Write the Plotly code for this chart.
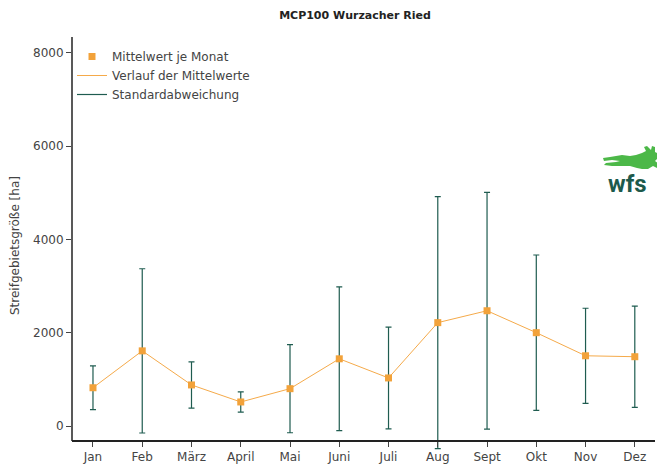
import plotly.graph_objects as go

months = ["Jan", "Feb", "März", "April", "Mai", "Juni", "Juli", "Aug", "Sept", "Okt", "Nov", "Dez"]
mean_values = [820, 1610, 880, 515, 800, 1440, 1030, 2215, 2470, 2000, 1505, 1485]
std_values = [468, 1760, 495, 218, 945, 1540, 1090, 2700, 2536, 1665, 1018, 1085]
y_ticks = [0, 2000, 4000, 6000, 8000]

ORANGE = "#f2a23a"
LINE_ORANGE = "#f5aa4a"
TEAL = "#1f5c50"
AXIS = "#222"
FONT = "DejaVu Sans"

x_idx = list(range(len(months)))

# page body has an 8px default margin; compensate so the figure lands where the reference is
OFF = 8
W, H = 665 - OFF, 466 - OFF
AXIS_BOTTOM = 441          # where the x-axis line sits (screen px)
PLOT_BOTTOM = 454          # subplot extends a bit lower so long error bars are not clipped
L, R, T = 72 - OFF, 10, 37 - OFF
B = H - (PLOT_BOTTOM - OFF)
PW, PH = W - L - R, H - T - B


def px_x(px):
    return (px - OFF - L) / PW


def px_y(py):
    return (H - B - (py - OFF)) / PH


# value scale: 0 at 426 px, 8000 at 52.7 px
PX_PER_UNIT = (426 - 52.7) / 8000
y_top = (426 - 37) / PX_PER_UNIT
y_bottom = (426 - PLOT_BOTTOM) / PX_PER_UNIT

fig = go.Figure()

fig.add_trace(go.Scatter(
    x=x_idx, y=mean_values, mode="lines",
    line=dict(color=LINE_ORANGE, width=1),
    name="Verlauf der Mittelwerte", legendrank=2, hoverinfo="skip",
))
fig.add_trace(go.Scatter(
    x=x_idx, y=mean_values, mode="markers",
    marker=dict(size=1, color="rgba(0,0,0,0)"),
    error_y=dict(type="data", array=std_values, visible=True,
                 color=TEAL, thickness=1.2, width=3),
    showlegend=False, hoverinfo="skip",
))
fig.add_trace(go.Scatter(
    x=x_idx, y=mean_values, mode="markers",
    marker=dict(symbol="square", size=7, color=ORANGE),
    name="Mittelwert je Monat", legendrank=1,
))
fig.add_trace(go.Scatter(
    x=[None], y=[None], mode="lines",
    line=dict(color=TEAL, width=1.2),
    name="Standardabweichung", legendrank=3,
))

hare = [(603, 158), (610, 157), (616, 156), (622, 155), (630, 156), (636, 155), (642, 153),
        (646, 151), (644, 147), (647, 146), (651, 150), (652, 146), (655, 147), (655, 152),
        (659, 154), (660, 157), (657, 159), (655, 161), (659, 164), (664, 166), (664, 169),
        (659, 169), (653, 166), (648, 169), (642, 169), (637, 168), (630, 166), (622, 166),
        (612, 166), (604, 165), (606, 163), (616, 162), (620, 161), (612, 160), (604, 161)]
hare_path = "M" + " L".join(f"{px_x(a):.5f},{px_y(b):.5f}" for a, b in hare) + " Z"

fig.update_layout(
    width=W, height=H,
    margin=dict(l=L, r=R, t=T, b=B, autoexpand=False),
    paper_bgcolor="white", plot_bgcolor="white",
    font=dict(family=FONT, size=12, color="#444"),
    title=dict(text="<b>MCP100 Wurzacher Ried</b>", x=(355 - OFF) / W, xref="container",
               xanchor="center", y=1 - (15 - OFF) / H, yref="container", yanchor="middle",
               font=dict(family=FONT, size=11, color="#222")),
    showlegend=True,
    legend=dict(x=0, xanchor="left", y=px_y(42), yanchor="top",
                bgcolor="rgba(0,0,0,0)", font=dict(size=12, color="#444"),
                itemwidth=30, traceorder="normal"),
    xaxis=dict(range=[-0.426, 11.41], tickmode="array", tickvals=x_idx, ticktext=months,
               anchor="free", position=px_y(AXIS_BOTTOM),
               showgrid=False, zeroline=False, showline=True, linecolor=AXIS, linewidth=1.5,
               ticks="outside", ticklen=5, tickcolor="#444", tickwidth=1,
               tickfont=dict(size=12, color="#444"), fixedrange=True),
    yaxis=dict(range=[y_bottom, y_top], tickmode="array", tickvals=y_ticks,
               showgrid=False, zeroline=False, showline=False,
               ticks="outside", ticklen=5, tickcolor="#444", tickwidth=1,
               tickfont=dict(size=12, color="#444"), fixedrange=True),
    annotations=[
        dict(text="Streifgebietsgröße [ha]", textangle=-90, xref="paper", yref="paper",
             x=px_x(15), y=px_y(246), xanchor="center", yanchor="middle", showarrow=False,
             font=dict(size=12, color="#444")),
        dict(text="<b>wfs</b>", xref="paper", yref="paper",
             x=px_x(627), y=px_y(184), xanchor="center", yanchor="middle", showarrow=False,
             font=dict(family="Liberation Sans Narrow, Roboto", size=24, color="#1d5a4c")),
    ],
)

# y-axis line only down to the x-axis
fig.add_shape(type="line", xref="paper", yref="paper", x0=0, x1=0,
              y0=px_y(AXIS_BOTTOM), y1=1, line=dict(color=AXIS, width=1.5))

fig.add_shape(type="path", path=hare_path, xref="paper", yref="paper",
              fillcolor="#4cb848", line=dict(width=0))

fig.write_html("out.html")
